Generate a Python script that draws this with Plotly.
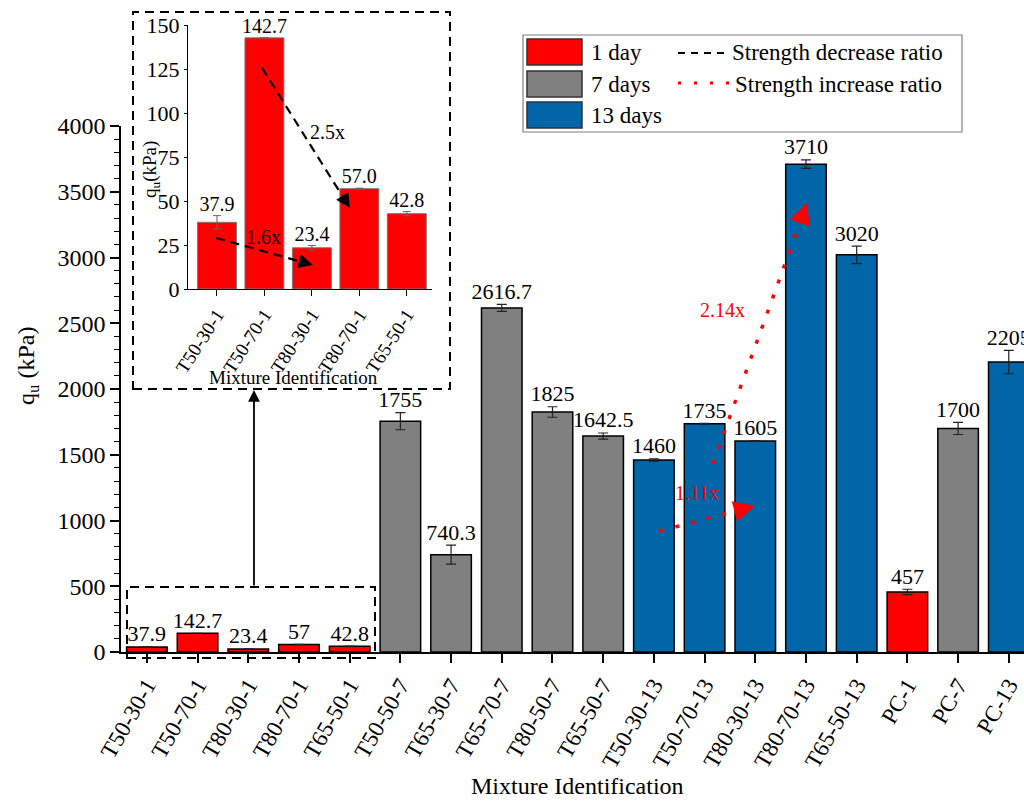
import plotly.graph_objects as go

# ---------------- data ----------------
categories = ["T50-30-1", "T50-70-1", "T80-30-1", "T80-70-1", "T65-50-1",
              "T50-50-7", "T65-30-7", "T65-70-7", "T80-50-7", "T65-50-7",
              "T50-30-13", "T50-70-13", "T80-30-13", "T80-70-13", "T65-50-13",
              "PC-1", "PC-7", "PC-13"]
values = [37.9, 142.7, 23.4, 57, 42.8,
          1755, 740.3, 2616.7, 1825, 1642.5,
          1460, 1735, 1605, 3710, 3020,
          457, 1700, 2205]
errors = [3.8, 0, 1.3, 0.3, 1.2,
          65, 72, 27, 40, 23,
          8, 3, 2, 33, 66,
          20, 46, 89]
ages = ["1 day"] * 5 + ["7 days"] * 5 + ["13 days"] * 5 + ["1 day", "7 days", "13 days"]
series_names = ["1 day", "7 days", "13 days"]

inset_categories = ["T50-30-1", "T50-70-1", "T80-30-1", "T80-70-1", "T65-50-1"]
inset_values = [37.9, 142.7, 23.4, 57.0, 42.8]
inset_errors = [3.8, 0, 1.3, 0.3, 1.2]

y_ticks = [0, 500, 1000, 1500, 2000, 2500, 3000, 3500, 4000]
inset_y_ticks = [0, 25, 50, 75, 100, 125, 150]

# ratio arrows: (x0, y0, x1, y1, label, label_x, label_y)
increase_arrows = [(10.12, 920, 11.99, 1110, "1.11x", 10.85, 1209),
                   (11.16, 1430, 13.02, 3414, "2.14x", 11.36, 2600)]
decrease_arrows = [(-0.02, 29, 2.02, 13.6, "1.6x", 0.97, 29.5),
                   (0.95, 125.6, 2.8, 46, "2.5x", 2.32, 89)]

# ---------------- style ----------------
FONT = "Liberation Serif, Times New Roman, serif"
colors = {"1 day": "#FF0000", "7 days": "#808080", "13 days": "#0066A8"}
W, H = 1024, 801


def px(x):
    return x / W


def py(y):
    return 1 - y / H


fig = go.Figure()

# main bars
for s in series_names:
    idx = [i for i, a in enumerate(ages) if a == s]
    fig.add_trace(go.Bar(
        x=[categories[i] for i in idx], y=[values[i] for i in idx],
        width=0.8, name=s, showlegend=False,
        marker=dict(color=colors[s], line=dict(color="black", width=1.5)),
        error_y=dict(type="data", array=[errors[i] for i in idx],
                     color="#222222", thickness=1.2, width=5),
        xaxis="x", yaxis="y"))

# main value labels
fig.add_trace(go.Scatter(
    x=categories, y=[v + e for v, e in zip(values, errors)],
    mode="text", text=[f"{v:g}" for v in values], textposition="top center",
    textfont=dict(family=FONT, size=22, color="black"),
    showlegend=False, cliponaxis=False, hoverinfo="skip",
    xaxis="x", yaxis="y"))

# inset bars
fig.add_trace(go.Bar(
    x=inset_categories, y=inset_values, width=0.82, showlegend=False,
    marker=dict(color=colors["1 day"], line=dict(color="#777777", width=1)),
    error_y=dict(type="data", array=inset_errors, color="#666666",
                 thickness=1, width=4),
    xaxis="x2", yaxis="y2"))
fig.add_trace(go.Scatter(
    x=inset_categories, y=[v + e for v, e in zip(inset_values, inset_errors)],
    mode="text", text=[f"{v:.1f}" for v in inset_values], textposition="top center",
    textfont=dict(family=FONT, size=20, color="black"),
    showlegend=False, cliponaxis=False, hoverinfo="skip",
    xaxis="x2", yaxis="y2"))

shapes = []
annotations = []


def add_arrow(a, xr, yr, color, dash, width, frac, size):
    x0, y0, x1, y1, lab, lx, ly = a
    shapes.append(dict(type="line", xref=xr, yref=yr, x0=x0, y0=y0,
                       x1=x0 + (x1 - x0) * (1 - frac), y1=y0 + (y1 - y0) * (1 - frac),
                       line=dict(color=color, width=width, dash=dash), layer="above"))
    annotations.append(dict(xref=xr, yref=yr, x=x1, y=y1,
                            axref=xr, ayref=yr,
                            ax=x1 - (x1 - x0) * frac, ay=y1 - (y1 - y0) * frac,
                            showarrow=True, arrowhead=2, arrowsize=size,
                            arrowwidth=width, arrowcolor=color, text=""))
    annotations.append(dict(xref=xr, yref=yr, x=lx, y=ly, text=lab, showarrow=False,
                            xanchor="center", yanchor="middle",
                            font=dict(family=FONT, size=20, color=color)))


add_arrow(increase_arrows[0], "x", "y", "#FF0000", "4px,12px", 3.5, 0.12, 1.2)
add_arrow(increase_arrows[1], "x", "y", "#FF0000", "4px,12px", 3.5, 0.07, 1.2)
add_arrow(decrease_arrows[0], "x2", "y2", "black", "9px,6px", 2.2, 0.15, 1.3)
add_arrow(decrease_arrows[1], "x2", "y2", "black", "9px,6px", 2.2, 0.10, 1.3)

# inset frame and zoom box
shapes.append(dict(type="rect", xref="paper", yref="paper",
                   x0=px(133), x1=px(450), y0=py(389), y1=py(12),
                   line=dict(color="black", width=2, dash="9px,6px")))
shapes.append(dict(type="rect", xref="paper", yref="paper",
                   x0=px(127), x1=px(375), y0=py(658), y1=py(587),
                   line=dict(color="black", width=2, dash="9px,6px")))
annotations.append(dict(xref="paper", yref="paper", x=px(254), y=py(390),
                        ax=0, ay=197, axref="pixel", ayref="pixel",
                        showarrow=True, arrowhead=2, arrowsize=1.3, arrowwidth=1.8,
                        arrowcolor="black", text=""))

# legend (drawn)
shapes.append(dict(type="rect", xref="paper", yref="paper",
                   x0=px(523), x1=px(962), y0=py(132), y1=py(35),
                   line=dict(color="#808080", width=1.2), fillcolor="white"))
leg_rows = [52, 84, 115]
for s, yc in zip(series_names, leg_rows):
    shapes.append(dict(type="rect", xref="paper", yref="paper",
                       x0=px(527), x1=px(582), y0=py(yc + 13), y1=py(yc - 13),
                       line=dict(color="#333333", width=1.5), fillcolor=colors[s]))
    annotations.append(dict(xref="paper", yref="paper", x=px(589), y=py(yc),
                            xanchor="left", yanchor="middle", text=s, showarrow=False,
                            font=dict(family=FONT, size=23, color="black")))
shapes.append(dict(type="line", xref="paper", yref="paper",
                   x0=px(678), x1=px(730), y0=py(53), y1=py(53),
                   line=dict(color="black", width=2, dash="7px,6px")))
shapes.append(dict(type="line", xref="paper", yref="paper",
                   x0=px(678), x1=px(732), y0=py(83), y1=py(83),
                   line=dict(color="#FF0000", width=3, dash="3px,13px")))
annotations.append(dict(xref="paper", yref="paper", x=px(730), y=py(52),
                        xanchor="left", yanchor="middle", text="Strength decrease ratio",
                        showarrow=False, font=dict(family=FONT, size=23, color="black")))
annotations.append(dict(xref="paper", yref="paper", x=px(733), y=py(84),
                        xanchor="left", yanchor="middle", text="Strength increase ratio",
                        showarrow=False, font=dict(family=FONT, size=23, color="black")))

# axis titles
annotations.append(dict(xref="paper", yref="paper", x=px(28), y=py(366),
                        xanchor="center", yanchor="middle",
                        text="q<sub>u</sub> (kPa)", textangle=-90, showarrow=False,
                        font=dict(family=FONT, size=24, color="black")))
annotations.append(dict(xref="paper", yref="paper", x=px(577), y=py(786),
                        xanchor="center", yanchor="middle",
                        text="Mixture Identification", showarrow=False,
                        font=dict(family=FONT, size=24, color="black")))
annotations.append(dict(xref="paper", yref="paper", x=px(151), y=py(170),
                        xanchor="center", yanchor="middle",
                        text="q<sub>u</sub>(kPa)", textangle=-90, showarrow=False,
                        font=dict(family=FONT, size=19, color="black")))
annotations.append(dict(xref="paper", yref="paper", x=px(293), y=py(377),
                        xanchor="center", yanchor="middle",
                        text="Mixture Identification", showarrow=False,
                        font=dict(family=FONT, size=19, color="black")))

axis_common = dict(showline=True, linecolor="black", showgrid=False, zeroline=False,
                   ticks="outside", tickcolor="black", automargin=False)

fig.update_layout(
    width=W, height=H, margin=dict(l=0, r=0, t=0, b=0),
    paper_bgcolor="white", plot_bgcolor="rgba(0,0,0,0)",
    barmode="overlay", showlegend=False,
    font=dict(family=FONT, color="black"),
    xaxis=dict(**axis_common, domain=[px(121), 1], anchor="y",
               type="category", categoryorder="array", categoryarray=categories,
               range=[-0.51, 17.3], linewidth=1.6, tickwidth=1.6, ticklen=9,
               tickangle=-60, tickfont=dict(family=FONT, size=23)),
    yaxis=dict(**axis_common, domain=[py(652), py(126)], anchor="x",
               range=[0, 4000], tickvals=y_ticks, linewidth=1.6, tickwidth=1.6,
               ticklen=9, tickfont=dict(family=FONT, size=24),
               minor=dict(dtick=100, ticklen=5, tickwidth=1.3, ticks="outside",
                          tickcolor="black")),
    xaxis2=dict(**axis_common, domain=[px(188), px(432)], anchor="y2",
                type="category", categoryorder="array", categoryarray=inset_categories,
                range=[-0.61, 4.53], linewidth=1.2, tickwidth=1.2, ticklen=6,
                tickangle=-57, tickfont=dict(family=FONT, size=19)),
    yaxis2=dict(**axis_common, domain=[py(289), py(25)], anchor="x2",
                range=[0, 150], tickvals=inset_y_ticks, linewidth=1.2, tickwidth=1.2,
                ticklen=3, tickfont=dict(family=FONT, size=22)),
    shapes=shapes, annotations=annotations,
)

fig.write_html("out.html")
